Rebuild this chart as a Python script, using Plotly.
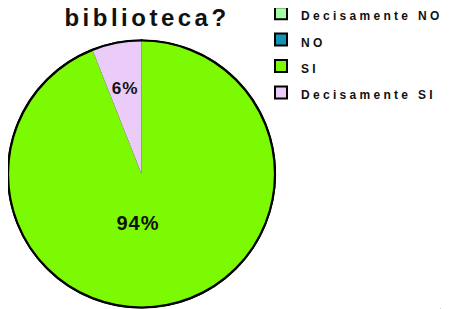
import plotly.graph_objects as go

labels = ["Decisamente NO", "NO", "SI", "Decisamente SI"]
values = [0, 0, 94, 6]
colors = ["#A3FFA3", "#1493B3", "#7CFA04", "#EBCBF7"]
pct_94 = ["", "", "94%", ""]
pct_6 = ["", "", "", "6%"]
title_text = "biblioteca?"

W, H = 449, 309
# page body offset (8px) compensated: pie centre in figure px
CX, CY, R = 133.5, 166.0, 133.5


def dom(r):
    return dict(x=[(CX - r) / W, (CX + r) / W],
                y=[(H - CY - r) / H, (H - CY + r) / H])


leg_labels = [f'<span style="font-size:12px;letter-spacing:3.3px">{l}</span>' for l in labels]

fig = go.Figure()
# legend-carrying pie (black borders for the legend boxes), drawn underneath
fig.add_trace(go.Pie(
    labels=leg_labels, values=values, textinfo="none",
    sort=False, direction="clockwise", rotation=0,
    marker=dict(colors=colors, line=dict(color="black", width=2)),
    domain=dom(R), hoverinfo="skip", showlegend=True,
))
# main pie, no internal borders
fig.add_trace(go.Pie(
    labels=leg_labels,
    values=values,
    textinfo="none",
    sort=False,
    direction="clockwise",
    rotation=0,
    marker=dict(colors=colors, line=dict(color="black", width=0)),
    domain=dom(R),
    hoverinfo="label+percent",
    showlegend=False,
))
# outer black outline
fig.add_trace(go.Pie(
    values=[1], labels=["outline"], textinfo="none",
    marker=dict(colors=["rgba(0,0,0,0)"], line=dict(color="black", width=2.2)),
    domain=dom(R), showlegend=False, hoverinfo="skip", sort=False,
))
# percentage labels (transparent pies sized to place the labels)
for txt, r, fs, rot in [(pct_94, 98, 20, 15), (pct_6, 104, 18, 0)]:
    fig.add_trace(go.Pie(
        labels=labels, values=values,
        text=[f'<span style="letter-spacing:1px">{t}</span>' if t else "" for t in txt],
        textinfo="text", textposition="inside", insidetextorientation="horizontal",
        textfont=dict(family="Liberation Sans", size=fs, color="#111111", weight="bold"),
        sort=False, direction="clockwise", rotation=rot,
        marker=dict(colors=["rgba(0,0,0,0)"] * 4, line=dict(width=0)),
        domain=dom(r), showlegend=False, hoverinfo="skip",
    ))

fig.update_layout(
    width=W, height=H,
    margin=dict(l=0, r=0, t=0, b=0, autoexpand=False),
    paper_bgcolor="white",
    plot_bgcolor="white",
    title=dict(
        text=f'<b><span style="letter-spacing:3.5px">{title_text}</span></b>',
        x=139 / W, xanchor="center",
        y=1 - 10 / H, yanchor="middle",
        font=dict(family="Liberation Sans", size=24, color="#111111"),
    ),
    legend=dict(
        x=253 / W, y=1 + 13 / H, xanchor="left", yanchor="top",
        font=dict(family="Liberation Sans", size=18, color="#111111", weight="bold"),
        bgcolor="rgba(0,0,0,0)",
    ),
    shapes=[dict(
        type="path", xref="paper", yref="paper",
        path=f"M {441/W},{1-275/H} Q {436/W},{1-288/H} {433/W},{1-305/H}",
        line=dict(color="black", width=2),
    )],
)

fig.write_html("out.html")
